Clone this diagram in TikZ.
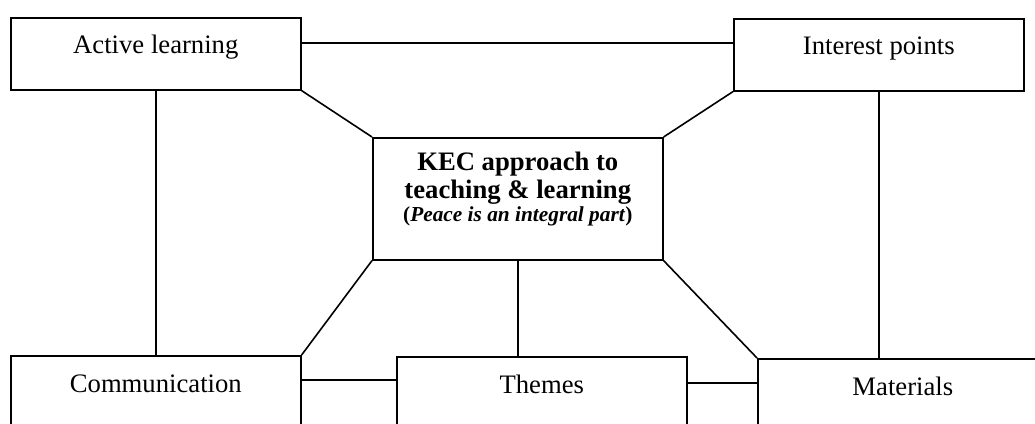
\documentclass[tikz,border=0pt]{standalone}
\usepackage{fontspec}
\setmainfont{Liberation Serif}

\begin{document}
\begin{tikzpicture}[x=0.75pt,y=-0.75pt,line width=1.2pt,
box/.style={draw, anchor=north west, inner sep=0pt, minimum width=217.5pt,
  minimum height=54pt, text height=27pt, text depth=27pt,
  font=\fontsize{20}{24}\selectfont},
lowbox/.style={box, minimum height=75pt, text height=27.75pt, text depth=47.25pt},
kecbox/.style={draw, anchor=north west, minimum width=217.5pt, minimum height=91.5pt}]
\useasboundingbox (0,0) rectangle (1035,424);
\clip (0,0) rectangle (1035,424);
% boxes
\node[box] (al) at (10,17) {Active learning};
\node[box] (ip) at (733,18) {Interest points};
\node[kecbox] (kec) at (372,137) {};
\node[align=center, font=\bfseries\fontsize{20}{21}\selectfont] (kectxt) at ([yshift=7.5pt]kec.center)
  {KEC approach to\\teaching \& learning\\[-3.75pt]{\fontsize{16}{17}\selectfont(\textit{Peace is an integral part})}};
\node[lowbox] (comm) at (10,355) {Communication};
\node[lowbox] (themes) at (396,356) {Themes};
\node[lowbox] (mat) at (757,358) {Materials};
% links
\draw ([yshift=8.25pt]al.east) -- ([yshift=8.25pt]al.east -| ip.west);
\draw (al.south east) -- (kec.north west);
\draw (ip.south west) -- (kec.north east);
\draw (kec.south west) -- (comm.north east);
\draw (kec.south east) -- (mat.north west);
\draw (al.south) -- (al.south |- comm.north);
\draw (ip.south) -- (ip.south |- mat.north);
\draw (kec.south) -- (kec.south |- themes.north);
\draw ([yshift=-18.75pt]comm.north east) -- ([yshift=-18.75pt]comm.north east -| themes.west);
\draw ([yshift=-20.25pt]themes.north east) -- ([yshift=-20.25pt]themes.north east -| mat.west);
\end{tikzpicture}
\end{document}
